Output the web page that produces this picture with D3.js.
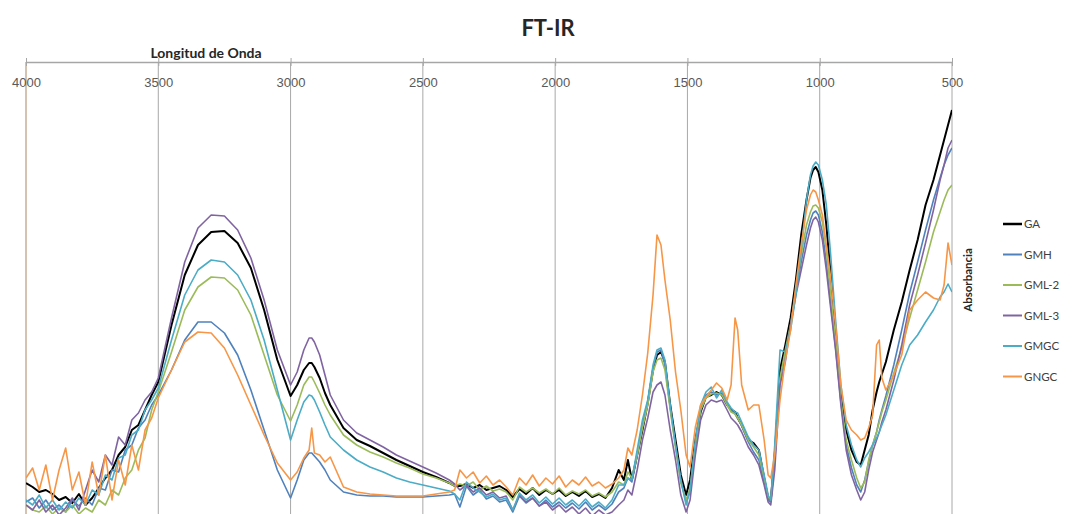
<!DOCTYPE html>
<html>
<head>
<meta charset="utf-8">
<script src="https://cdn.jsdelivr.net/npm/d3@7"></script>
<style>
	body{margin:0;background:#fff;}
	svg{display:block;font-family:Lato,"Open Sans",sans-serif;}
</style>
</head>
<body>
<svg id="chart" width="1086" height="514"></svg>
<script>
// wavenumber grid (cm-1), shared by all series
var wavenumbers = [4000,3975,3950,3925,3900,3875,3850,3825,3800,3775,3750,3725,3700,3675,3650,3625,3600,3575,3550,3525,3500,
	3450,3400,3350,3300,3250,3200,3150,3100,3050,3000,2975,2950,2930,2920,2910,2890,2870,2850,2800,2750,2700,2650,2600,2550,2500,2450,2400,2380,
	2360,2335,2310,2285,2260,2235,2210,2185,2160,2135,2110,2085,2060,2035,2010,1985,1960,1935,1910,1885,1860,1835,1810,1785,1760,
	1740,1725,1710,1690,1670,1650,1630,1615,1600,1585,1565,1545,1525,1505,1490,1470,1450,1430,1410,1390,
	1370,1350,1335,1320,1310,1295,1270,1250,1230,1210,1195,1185,1170,1150,1130,1110,1090,1070,1050,1035,
	1025,1015,1005,990,975,960,940,920,900,880,860,845,830,815,800,785,775,765,750,720,
	690,660,630,600,570,545,530,515,500];

var ga = [4.21,4.25,4.30,4.28,4.32,4.38,4.35,4.41,4.32,4.43,4.36,4.26,4.16,4.08,3.93,3.85,3.68,3.63,3.48,3.33,3.20,
	2.63,2.13,1.83,1.70,1.69,1.81,2.06,2.48,2.98,3.34,3.23,3.08,3.01,3.01,3.05,3.16,3.31,3.43,3.66,3.78,3.84,3.91,3.98,4.04,4.10,4.15,4.21,4.24,
	4.24,4.22,4.26,4.23,4.28,4.26,4.24,4.28,4.35,4.27,4.32,4.26,4.33,4.28,4.32,4.28,4.34,4.30,4.34,4.29,4.35,4.32,4.36,4.26,4.08,
	4.18,3.98,4.18,3.93,3.68,3.41,3.08,2.93,2.90,3.00,3.43,3.78,4.13,4.33,4.18,3.78,3.50,3.35,3.33,3.30,
	3.33,3.43,3.48,3.50,3.56,3.63,3.78,3.81,3.88,4.16,4.36,4.38,3.93,3.08,2.83,2.56,2.18,1.73,1.38,1.16,
	1.08,1.05,1.10,1.28,1.63,2.08,2.68,3.33,3.68,3.88,4.00,4.03,3.88,3.73,3.48,3.30,3.20,3.12,3.00,2.68,
	2.40,2.08,1.78,1.43,1.18,0.93,0.78,0.63,0.48];

var gmh = [4.40,4.36,4.46,4.38,4.48,4.43,4.50,4.38,4.44,4.36,4.43,4.26,4.28,4.08,4.10,3.88,3.83,3.66,3.58,3.43,3.33,
	3.08,2.78,2.60,2.60,2.71,2.93,3.28,3.68,4.08,4.36,4.18,3.98,3.91,3.91,3.94,4.00,4.08,4.18,4.30,4.33,4.34,4.34,4.35,4.35,4.35,4.34,4.33,4.32,
	4.45,4.24,4.33,4.28,4.37,4.34,4.40,4.38,4.50,4.34,4.41,4.36,4.44,4.38,4.45,4.40,4.46,4.41,4.47,4.40,4.48,4.43,4.48,4.42,4.30,
	4.26,4.16,4.20,3.93,3.63,3.40,3.06,2.90,2.88,3.03,3.46,3.83,4.18,4.40,4.30,3.86,3.48,3.33,3.30,3.33,
	3.31,3.43,3.48,3.52,3.56,3.64,3.80,3.90,3.98,4.20,4.38,4.40,4.00,3.18,2.93,2.63,2.30,2.00,1.73,1.58,
	1.51,1.49,1.53,1.70,2.00,2.38,2.86,3.40,3.83,4.06,4.23,4.30,4.18,4.00,3.83,3.70,3.58,3.48,3.34,3.03,
	2.68,2.31,2.00,1.68,1.38,1.16,1.03,0.93,0.86];

var gml2 = [4.43,4.48,4.50,4.44,4.52,4.46,4.50,4.43,4.52,4.46,4.50,4.38,4.43,4.28,4.33,4.16,4.08,3.88,3.76,3.48,3.30,
	2.90,2.48,2.25,2.15,2.16,2.28,2.53,2.93,3.33,3.59,3.43,3.23,3.15,3.15,3.20,3.31,3.43,3.53,3.73,3.83,3.90,3.95,4.01,4.06,4.12,4.16,4.21,4.24,
	4.22,4.24,4.20,4.28,4.24,4.29,4.27,4.30,4.38,4.25,4.30,4.26,4.31,4.27,4.32,4.26,4.33,4.29,4.32,4.28,4.34,4.31,4.35,4.30,4.20,
	4.23,4.10,4.16,3.93,3.66,3.43,3.10,2.98,2.96,3.08,3.48,3.86,4.21,4.38,4.26,3.83,3.48,3.36,3.32,3.31,
	3.33,3.43,3.50,3.52,3.56,3.63,3.78,3.85,3.93,4.16,4.35,4.38,3.96,3.16,2.88,2.63,2.28,1.93,1.63,1.50,
	1.44,1.43,1.46,1.60,1.88,2.28,2.78,3.38,3.78,3.98,4.16,4.26,4.20,3.98,3.83,3.70,3.60,3.50,3.38,3.11,
	2.86,2.56,2.28,2.00,1.70,1.50,1.38,1.28,1.23];

var gml3 = [4.43,4.48,4.38,4.50,4.43,4.53,4.46,4.36,4.48,4.28,4.08,4.20,3.93,4.03,3.75,3.83,3.58,3.51,3.38,3.30,3.16,
	2.56,2.00,1.66,1.53,1.54,1.68,1.96,2.38,2.88,3.23,3.10,2.88,2.76,2.76,2.80,2.93,3.13,3.33,3.58,3.71,3.78,3.85,3.93,3.99,4.05,4.11,4.18,4.22,
	4.28,4.23,4.30,4.26,4.33,4.30,4.36,4.34,4.48,4.33,4.40,4.36,4.44,4.40,4.48,4.43,4.50,4.45,4.52,4.46,4.54,4.48,4.53,4.50,4.43,
	4.38,4.28,4.33,4.08,3.78,3.56,3.30,3.23,3.20,3.33,3.68,3.98,4.33,4.50,4.38,3.93,3.58,3.43,3.38,3.40,
	3.38,3.48,3.56,3.60,3.63,3.70,3.85,3.93,4.03,4.23,4.40,4.43,4.08,3.23,3.00,2.63,2.33,2.08,1.83,1.66,
	1.58,1.55,1.60,1.78,2.08,2.43,2.88,3.43,3.88,4.13,4.28,4.38,4.30,4.08,3.90,3.78,3.70,3.60,3.48,3.18,
	2.83,2.43,2.13,1.81,1.48,1.18,1.03,0.86,0.78];

var gmgc = [4.38,4.43,4.33,4.46,4.38,4.48,4.40,4.46,4.36,4.43,4.28,4.33,4.13,4.18,3.96,3.93,3.73,3.68,3.48,3.38,3.26,
	2.78,2.33,2.08,1.98,2.00,2.13,2.38,2.78,3.28,3.78,3.58,3.40,3.33,3.34,3.38,3.50,3.63,3.75,3.88,3.98,4.05,4.10,4.16,4.20,4.23,4.26,4.29,4.32,
	4.38,4.20,4.26,4.30,4.35,4.32,4.38,4.36,4.48,4.31,4.38,4.33,4.41,4.35,4.42,4.36,4.43,4.38,4.44,4.37,4.45,4.40,4.46,4.38,4.23,
	4.23,4.16,4.18,3.88,3.58,3.38,3.03,2.88,2.86,2.98,3.43,3.83,4.18,4.43,4.28,3.78,3.43,3.30,3.25,3.36,
	3.28,3.40,3.46,3.50,3.51,3.60,3.75,3.83,3.88,4.13,4.33,4.38,3.83,2.88,2.90,2.68,2.33,1.88,1.38,1.13,
	1.04,1.00,1.03,1.18,1.43,1.88,2.58,3.23,3.63,3.83,3.98,4.05,3.96,3.90,3.83,3.76,3.70,3.63,3.53,3.28,
	3.03,2.83,2.73,2.60,2.48,2.35,2.30,2.22,2.30];

var gngc = [4.16,4.06,4.28,4.03,4.38,4.08,3.86,4.28,4.10,4.43,4.00,4.33,3.93,4.38,3.98,4.23,3.83,4.08,3.68,3.56,3.36,
	3.08,2.80,2.70,2.71,2.86,3.13,3.43,3.73,4.01,4.18,4.10,3.96,3.88,3.66,3.91,3.93,4.00,3.95,4.25,4.30,4.32,4.33,4.34,4.34,4.34,4.32,4.30,4.28,
	4.08,4.16,4.10,4.21,4.14,4.23,4.18,4.25,4.33,4.16,4.23,4.13,4.24,4.16,4.22,4.14,4.25,4.18,4.23,4.15,4.24,4.20,4.26,4.22,4.16,
	4.08,3.86,3.93,3.68,3.33,2.91,2.33,1.73,1.83,2.18,2.58,3.10,3.48,3.93,4.05,3.65,3.43,3.35,3.28,3.21,
	3.26,3.38,3.23,2.56,2.68,3.23,3.48,3.43,3.43,3.78,4.13,4.16,3.93,3.38,2.98,2.68,2.23,1.83,1.48,1.33,
	1.28,1.30,1.38,1.53,1.83,2.13,2.63,3.23,3.58,3.68,3.73,3.78,3.76,3.66,3.53,2.83,2.78,3.16,3.28,3.13,
	2.93,2.48,2.38,2.30,2.36,2.38,2.23,1.81,2.03];

var seriesNames = ["GA","GMH","GML-2","GML-3","GMGC","GNGC"];
var seriesValues = [ga, gmh, gml2, gml3, gmgc, gngc];
var seriesColors = ["#000000","#4f81bd","#9bbb59","#8064a2","#4bacc6","#f79646"];
var xTicks = [4000,3500,3000,2500,2000,1500,1000,500];

var svg = d3.select("#chart");
var plotLeft = 26, plotRight = 952, plotTop = 62, plotBottom = 514;

var x = d3.scaleLinear().domain([4000, 500]).range([plotLeft, plotRight]);
// absorbance axis in reverse order, so the wavenumber axis sits on top
var y = d3.scaleLinear().domain([0, 4.52]).range([plotTop, plotBottom]);

svg.append("defs").append("clipPath").attr("id", "plot-clip")
	.append("rect").attr("x", plotLeft).attr("y", plotTop).attr("width", plotRight - plotLeft).attr("height", plotBottom - plotTop);

// vertical grid
svg.append("g").attr("class", "grid").selectAll("line").data(xTicks).enter().append("line")
	.attr("x1", function(d){ return x(d); }).attr("x2", function(d){ return x(d); })
	.attr("y1", plotTop).attr("y2", plotBottom)
	.attr("stroke", function(d){ return d === 4000 ? "#c9b49c" : "#a8a8a8"; })
	.attr("stroke-width", function(d){ return d === 4000 ? 1.6 : 1; });

// series
var line = d3.line()
	.x(function(d){ return x(d[0]); })
	.y(function(d){ return y(d[1]); });

var plot = svg.append("g").attr("clip-path", "url(#plot-clip)");
for(var i = 0; i < seriesNames.length; i++){
	var pts = wavenumbers.map(function(w, j){ return [w, seriesValues[i][j]]; });
	plot.append("path").datum(pts)
		.attr("fill", "none")
		.attr("stroke", seriesColors[i])
		.attr("stroke-width", i === 0 ? 2 : 1.6)
		.attr("stroke-linejoin", "round")
		.attr("d", line);
}

// top axis
var axis = svg.append("g").attr("transform", "translate(0," + plotTop + ")")
	.call(d3.axisBottom(x).tickValues(xTicks).tickSize(4).tickSizeOuter(0).tickPadding(12).tickFormat(d3.format("d")));
axis.select(".domain").attr("stroke", "#a6a6a6").attr("stroke-width", 1.5);
axis.selectAll(".tick line").attr("stroke", "#a6a6a6").attr("y1", -4);
axis.selectAll(".tick text").attr("fill", "#595959").style("font-size", "13px");

// titles
svg.append("text").attr("x", 548).attr("y", 36).attr("text-anchor", "middle")
	.style("font-size", "22px").style("font-weight", "bold").attr("fill", "#262626").text("FT-IR");
svg.append("text").attr("x", 206).attr("y", 58).attr("text-anchor", "middle")
	.style("font-size", "14px").style("font-weight", "bold").attr("fill", "#262626").text("Longitud de Onda");
svg.append("text").attr("transform", "translate(972,280) rotate(-90)").attr("text-anchor", "middle")
	.style("font-size", "11.5px").style("font-weight", "bold").attr("fill", "#262626").text("Absorbancia");

// legend
var legend = svg.append("g").selectAll("g").data(seriesNames).enter().append("g")
	.attr("transform", function(d, i){ return "translate(1003," + (224 + i * 30.5) + ")"; });
legend.append("line").attr("x1", 0).attr("x2", 19).attr("y1", 0).attr("y2", 0)
	.attr("stroke", function(d, i){ return seriesColors[i]; })
	.attr("stroke-width", function(d, i){ return i === 0 ? 2.5 : 2; });
legend.append("text").attr("x", 21).attr("y", 4).style("font-size", "11.5px").attr("fill", "#404040")
	.text(function(d){ return d; });
</script>
</body>
</html>
